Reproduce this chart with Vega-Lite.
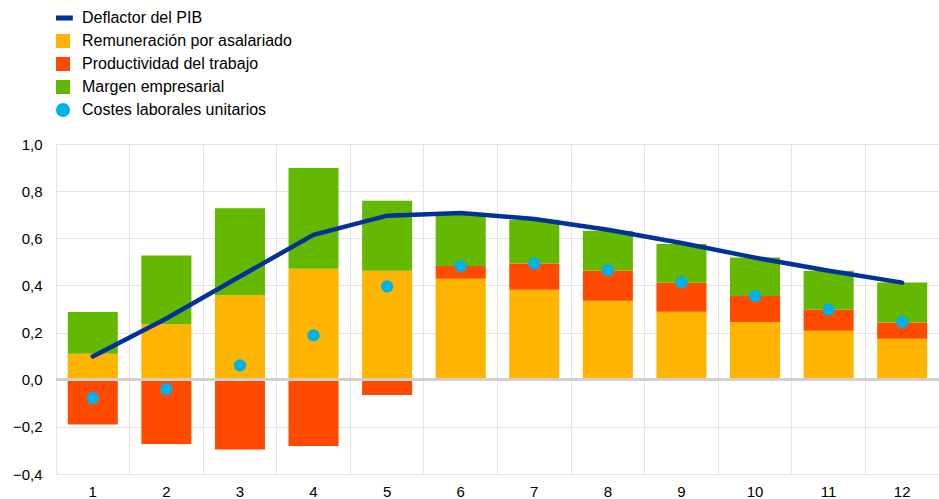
{
  "$schema": "https://vega.github.io/schema/vega-lite/v6.json",
  "width": 883,
  "height": 330,
  "autosize": {"type": "none"},
  "padding": {"left": 56, "top": 144, "right": 0, "bottom": 25},
  "config": {
    "font": "Liberation Sans",
    "view": {"stroke": null},
    "axis": {"labelFont": "Liberation Sans", "labelFontSize": 15, "labelColor": "#000000", "gridColor": "#e4e4e4", "gridWidth": 1, "domain": false, "ticks": false, "title": null},
    "legend": {"labelFont": "Liberation Sans", "labelFontSize": 16, "labelColor": "#000000", "labelLimit": 400}
  },
  "data": {
    "values": [
      {"x": 1, "series": "Remuneración por asalariado", "value": 0.11},
      {"x": 1, "series": "Productividad del trabajo", "value": -0.19},
      {"x": 1, "series": "Margen empresarial", "value": 0.177},
      {"x": 1, "series": "Costes laborales unitarios", "value": -0.078},
      {"x": 1, "series": "Deflactor del PIB", "value": 0.099},
      {"x": 2, "series": "Remuneración por asalariado", "value": 0.235},
      {"x": 2, "series": "Productividad del trabajo", "value": -0.273},
      {"x": 2, "series": "Margen empresarial", "value": 0.292},
      {"x": 2, "series": "Costes laborales unitarios", "value": -0.04},
      {"x": 2, "series": "Deflactor del PIB", "value": 0.26},
      {"x": 3, "series": "Remuneración por asalariado", "value": 0.358},
      {"x": 3, "series": "Productividad del trabajo", "value": -0.296},
      {"x": 3, "series": "Margen empresarial", "value": 0.369},
      {"x": 3, "series": "Costes laborales unitarios", "value": 0.061},
      {"x": 3, "series": "Deflactor del PIB", "value": 0.438},
      {"x": 4, "series": "Remuneración por asalariado", "value": 0.471},
      {"x": 4, "series": "Productividad del trabajo", "value": -0.281},
      {"x": 4, "series": "Margen empresarial", "value": 0.427},
      {"x": 4, "series": "Costes laborales unitarios", "value": 0.188},
      {"x": 4, "series": "Deflactor del PIB", "value": 0.615},
      {"x": 5, "series": "Remuneración por asalariado", "value": 0.462},
      {"x": 5, "series": "Productividad del trabajo", "value": -0.065},
      {"x": 5, "series": "Margen empresarial", "value": 0.297},
      {"x": 5, "series": "Costes laborales unitarios", "value": 0.396},
      {"x": 5, "series": "Deflactor del PIB", "value": 0.696},
      {"x": 6, "series": "Remuneración por asalariado", "value": 0.428},
      {"x": 6, "series": "Productividad del trabajo", "value": 0.054},
      {"x": 6, "series": "Margen empresarial", "value": 0.218},
      {"x": 6, "series": "Costes laborales unitarios", "value": 0.482},
      {"x": 6, "series": "Deflactor del PIB", "value": 0.707},
      {"x": 7, "series": "Remuneración por asalariado", "value": 0.382},
      {"x": 7, "series": "Productividad del trabajo", "value": 0.111},
      {"x": 7, "series": "Margen empresarial", "value": 0.186},
      {"x": 7, "series": "Costes laborales unitarios", "value": 0.493},
      {"x": 7, "series": "Deflactor del PIB", "value": 0.682},
      {"x": 8, "series": "Remuneración por asalariado", "value": 0.335},
      {"x": 8, "series": "Productividad del trabajo", "value": 0.127},
      {"x": 8, "series": "Margen empresarial", "value": 0.17},
      {"x": 8, "series": "Costes laborales unitarios", "value": 0.465},
      {"x": 8, "series": "Deflactor del PIB", "value": 0.636},
      {"x": 9, "series": "Remuneración por asalariado", "value": 0.288},
      {"x": 9, "series": "Productividad del trabajo", "value": 0.123},
      {"x": 9, "series": "Margen empresarial", "value": 0.165},
      {"x": 9, "series": "Costes laborales unitarios", "value": 0.413},
      {"x": 9, "series": "Deflactor del PIB", "value": 0.58},
      {"x": 10, "series": "Remuneración por asalariado", "value": 0.245},
      {"x": 10, "series": "Productividad del trabajo", "value": 0.11},
      {"x": 10, "series": "Margen empresarial", "value": 0.164},
      {"x": 10, "series": "Costes laborales unitarios", "value": 0.355},
      {"x": 10, "series": "Deflactor del PIB", "value": 0.518},
      {"x": 11, "series": "Remuneración por asalariado", "value": 0.208},
      {"x": 11, "series": "Productividad del trabajo", "value": 0.089},
      {"x": 11, "series": "Margen empresarial", "value": 0.165},
      {"x": 11, "series": "Costes laborales unitarios", "value": 0.297},
      {"x": 11, "series": "Deflactor del PIB", "value": 0.462},
      {"x": 12, "series": "Remuneración por asalariado", "value": 0.174},
      {"x": 12, "series": "Productividad del trabajo", "value": 0.069},
      {"x": 12, "series": "Margen empresarial", "value": 0.169},
      {"x": 12, "series": "Costes laborales unitarios", "value": 0.245},
      {"x": 12, "series": "Deflactor del PIB", "value": 0.412}
    ]
  },
  "layer": [
    {
      "transform": [
        {"filter": "datum.series !== 'Deflactor del PIB' && datum.series !== 'Costes laborales unitarios'"},
        {"calculate": "indexof(['Remuneración por asalariado','Productividad del trabajo','Margen empresarial'], datum.series)", "as": "ord"}
      ],
      "mark": {"type": "bar", "width": {"band": 0.68}},
      "encoding": {
        "x": {"field": "x", "type": "ordinal", "scale": {"paddingInner": 0, "paddingOuter": 0}, "axis": {"labelAngle": 0, "grid": true, "bandPosition": 0, "labelPadding": 10}},
        "y": {"field": "value", "type": "quantitative", "stack": "zero", "scale": {"domain": [-0.4, 1.0], "nice": false, "zero": false}, "axis": {"values": [-0.4, -0.2, 0, 0.2, 0.4, 0.6, 0.8, 1.0], "labelExpr": "replace(format(datum.value, '.1f'), '.', ',')", "labelPadding": 14, "grid": true}},
        "order": {"field": "ord", "type": "quantitative"},
        "color": {
          "field": "series", "type": "nominal",
          "scale": {"domain": ["Deflactor del PIB", "Remuneración por asalariado", "Productividad del trabajo", "Margen empresarial", "Costes laborales unitarios"], "range": ["#003299", "#ffb400", "#ff4b00", "#65b800", "#00b1ea"]},
          "legend": {
            "title": null, "orient": "none", "legendX": -1, "legendY": -134,
            "symbolSize": 196, "labelOffset": 11, "rowPadding": 7, "labelLimit": 400,
            "symbolStrokeWidth": 0,
            "encode": {"symbols": {"update": {
              "shape": {"signal": "datum.value === 'Deflactor del PIB' ? 'M-1,-0.36H1.4V0.36H-1Z' : (datum.value === 'Costes laborales unitarios' ? 'circle' : 'square')"},
              "fill": {"scale": "color", "field": "value"},
              "strokeWidth": {"value": 0},
              "opacity": {"value": 1}
            }}}
          }
        }
      }
    },
    {
      "mark": {"type": "rule", "color": "#d0d0d0", "strokeWidth": 2},
      "encoding": {"y": {"datum": 0, "type": "quantitative"}}
    },
    {
      "transform": [{"filter": "datum.series === 'Deflactor del PIB'"}],
      "mark": {"type": "line", "strokeWidth": 4.5, "strokeCap": "round"},
      "encoding": {
        "x": {"field": "x", "type": "ordinal"},
        "y": {"field": "value", "type": "quantitative"},
        "color": {"field": "series", "type": "nominal"}
      }
    },
    {
      "transform": [{"filter": "datum.series === 'Costes laborales unitarios'"}],
      "mark": {"type": "point", "filled": true, "opacity": 1, "size": 150},
      "encoding": {
        "x": {"field": "x", "type": "ordinal"},
        "y": {"field": "value", "type": "quantitative"},
        "color": {"field": "series", "type": "nominal"}
      }
    }
  ]
}
